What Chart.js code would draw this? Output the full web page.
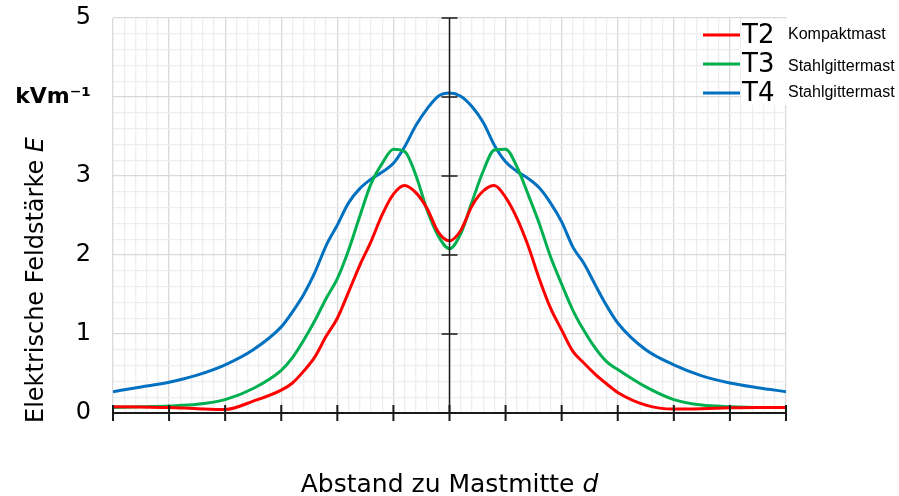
<!DOCTYPE html>
<html><head><meta charset="utf-8">
<script src="https://cdn.jsdelivr.net/npm/chart.js@4.4.1/dist/chart.umd.min.js"></script>
<style>html,body{margin:0;padding:0;background:#fff}#wrap{width:899px;height:496px;position:relative}</style>
</head><body><div id="wrap"><canvas id="c"></canvas></div>
<script>
// ---- data ----
const distances = [-6,-5.5,-5,-4.5,-4,-3.5,-3,-2.8,-2.6,-2.4,-2.2,-2,-1.8,-1.6,-1.4,-1.2,-1,-0.8,-0.6,-0.4,-0.2,0,
  0.2,0.4,0.6,0.8,1,1.2,1.4,1.6,1.8,2,2.2,2.4,2.6,2.8,3,3.5,4,4.5,5,5.5,6];
const seriesNames = ['T2','T3','T4'];
const seriesSubtitles = ['Kompaktmast','Stahlgittermast','Stahlgittermast'];
const t2Values = [0.08,0.075,0.07,0.055,0.045,0.15,0.29,0.38,0.53,0.71,0.97,1.2,1.53,1.87,2.17,2.51,2.77,2.88,2.79,2.59,2.29,2.18,
  2.31,2.62,2.81,2.88,2.73,2.47,2.12,1.7,1.33,1.05,0.78,0.63,0.49,0.37,0.26,0.1,0.05,0.055,0.065,0.07,0.07];
const t3Values = [0.07,0.08,0.09,0.11,0.17,0.31,0.54,0.7,0.92,1.17,1.45,1.7,2.06,2.49,2.9,3.16,3.34,3.31,3.01,2.57,2.24,2.08,
  2.27,2.67,3.06,3.33,3.34,3.12,2.77,2.4,1.98,1.63,1.3,1.04,0.82,0.65,0.55,0.33,0.17,0.1,0.08,0.07,0.07];
const t4Values = [0.27,0.33,0.39,0.48,0.61,0.8,1.09,1.28,1.5,1.78,2.12,2.38,2.66,2.84,2.96,3.05,3.16,3.37,3.64,3.85,4.01,4.05,
  4.01,3.88,3.68,3.39,3.18,3.06,2.97,2.85,2.66,2.42,2.1,1.89,1.62,1.36,1.14,0.8,0.61,0.47,0.38,0.32,0.27];
const yTickLabels = ['0','1','2','3','kVm\u207B\u00B9','5'];
const yAxisTitle = 'Elektrische Feldstärke ';
const yAxisSymbol = 'E';
const xAxisTitle = 'Abstand zu Mastmitte ';
const xAxisSymbol = 'd';
// ---- style ----
const colors = ['#ff0000','#00b050','#0070c0'];
const FONT = "'DejaVu Sans', Verdana, sans-serif";
const isInt = v => Math.abs(v - Math.round(v)) < 1e-6;
const allValues = [t2Values, t3Values, t4Values];

const decor = {
  id: 'decor',
  afterDatasetsDraw(chart) {
    const ctx = chart.ctx, xs = chart.scales.x, ys = chart.scales.y;
    const y0 = ys.getPixelForValue(0), x0 = xs.getPixelForValue(0);
    ctx.save();
    ctx.strokeStyle = '#1a1a1a';
    ctx.lineWidth = 2;
    ctx.beginPath();
    ctx.moveTo(xs.left, y0); ctx.lineTo(xs.right, y0);
    for (let v = -6; v <= 6; v++) { const p = xs.getPixelForValue(v); ctx.moveTo(p, y0 - 8); ctx.lineTo(p, y0 + 8); }
    ctx.stroke();
    ctx.lineWidth = 1.5;
    ctx.beginPath();
    ctx.moveTo(x0, ys.top); ctx.lineTo(x0, y0);
    for (let v = 1; v <= 5; v++) { const p = ys.getPixelForValue(v); ctx.moveTo(x0 - 8, p); ctx.lineTo(x0 + 8, p); }
    ctx.stroke();
    ctx.restore();
  },
  afterDraw(chart) {
    const ctx = chart.ctx, ca = chart.chartArea;
    ctx.save();
    // legend
    ctx.fillStyle = '#fff';
    ctx.fillRect(741, ca.top + 1, ca.right - 741 + 1, 86);
    chart.data.datasets.forEach((ds, i) => {
      const cy = 35 + i * 29;
      ctx.strokeStyle = ds.borderColor; ctx.lineWidth = 3;
      ctx.beginPath(); ctx.moveTo(703, cy); ctx.lineTo(740, cy); ctx.stroke();
      ctx.fillStyle = '#000'; ctx.textBaseline = 'middle'; ctx.textAlign = 'left';
      ctx.font = '26px ' + FONT;
      ctx.fillText(seriesNames[i], 742, cy + 1);
      ctx.font = "16px 'Liberation Sans', Arial, sans-serif";
      ctx.fillText(seriesSubtitles[i], 788, cy + (i === 1 ? 3 : 0));
    });
    // x title
    ctx.textBaseline = 'alphabetic';
    const fs = 25;
    ctx.font = fs + 'px ' + FONT;
    const w1 = ctx.measureText(xAxisTitle).width;
    ctx.font = 'italic ' + fs + 'px ' + FONT;
    const w2 = ctx.measureText(xAxisSymbol).width;
    let sx = (ca.left + ca.right) / 2 - (w1 + w2) / 2;
    ctx.font = fs + 'px ' + FONT; ctx.fillText(xAxisTitle, sx, 492);
    ctx.font = 'italic ' + fs + 'px ' + FONT; ctx.fillText(xAxisSymbol, sx + w1, 492);
    // y title
    ctx.translate(43, 0); ctx.rotate(-Math.PI / 2);
    ctx.font = '24px ' + FONT;
    const v1 = ctx.measureText(yAxisTitle).width;
    ctx.fillText(yAxisTitle, -423, 0);
    ctx.font = 'italic 24px ' + FONT;
    ctx.fillText(yAxisSymbol, -423 + v1, 0);
    ctx.restore();
  }
};

new Chart(document.getElementById('c'), {
  type: 'line',
  data: {
    datasets: allValues.map((vals, i) => ({
      label: seriesNames[i],
      data: distances.map((d, k) => ({ x: d, y: vals[k] })),
      borderColor: colors[i],
      borderWidth: 3,
      pointRadius: 0,
      cubicInterpolationMode: 'monotone',
      fill: false
    }))
  },
  plugins: [decor],
  options: {
    responsive: true,
    maintainAspectRatio: false,
    animation: false,
    layout: { autoPadding: false, padding: { top: 18, right: 113, left: 0, bottom: 0 } },
    plugins: { legend: { display: false }, tooltip: { enabled: false } },
    scales: {
      x: {
        type: 'linear', min: -6, max: 6,
        ticks: { stepSize: 0.2, display: false, autoSkip: false },
        grid: { drawTicks: false, lineWidth: 1.3, color: c => isInt(c.tick.value) ? '#d9d9d9' : '#eeeeee' },
        border: { display: false },
        afterFit: s => { s.height = 83; s.paddingLeft = 0; s.paddingRight = 0; }
      },
      y: {
        min: 0, max: 5,
        ticks: {
          stepSize: 0.2, autoSkip: false, padding: 22, color: '#000',
          callback: v => isInt(v) ? yTickLabels[Math.round(v)] : '',
          font: c => (c.tick && isInt(c.tick.value) && Math.round(c.tick.value) === 4)
            ? { family: FONT, size: 22, weight: 'bold' } : { family: FONT, size: 24 }
        },
        grid: { drawTicks: false, lineWidth: 1.3, color: c => isInt(c.tick.value) ? '#d9d9d9' : '#eeeeee' },
        border: { display: false },
        afterFit: s => { s.width = 113; s.paddingTop = 0; s.paddingBottom = 0; }
      }
    }
  }
});
</script>
</body></html>
